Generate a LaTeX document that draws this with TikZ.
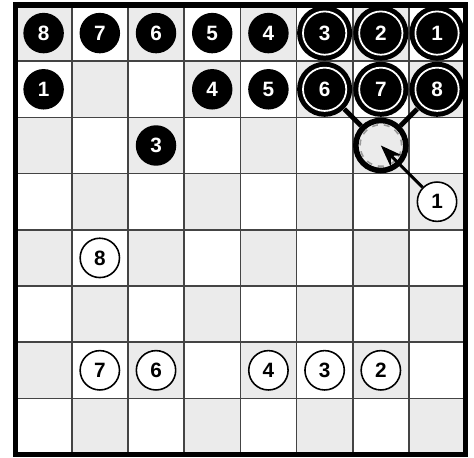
\documentclass[tikz,border=0pt]{standalone}
\usepackage{fontspec}
\setmainfont{Liberation Sans}
\usetikzlibrary{arrows.meta}
\definecolor{boardgray}{HTML}{EBEBEB}
\definecolor{gridgray}{HTML}{444444}

\begin{document}
\begin{tikzpicture}[
		blk/.style={circle, fill=black, text=white, minimum size=0.72cm, inner sep=0pt, font=\fontsize{10.5}{12}\selectfont\bfseries},
		wht/.style={circle, draw, fill=white, line width=0.8pt, minimum size=0.7cm, inner sep=0pt, font=\fontsize{10.5}{12}\selectfont\bfseries},
		ring/.style={blk, minimum size=0.98cm, path picture={\draw[white, line width=0.9pt] (path picture bounding box.center) circle (0.385);}},
		target/.style={circle, draw, line width=2.8pt, fill=boardgray, minimum size=0.89cm, inner sep=0pt,
				path picture={\draw[gray!80, dashed, line width=0.8pt] (path picture bounding box.center) circle (0.37);}}
	]
	\useasboundingbox (-0.276, -0.043) rectangle (8.158, 8.089);

	% board
	\foreach \c in {1, ..., 8} {
			\foreach \r in {1, ..., 8} {
					\pgfmathtruncatemacro{\odd}{mod(\c + \r, 2)}
					\ifnum\odd=0 \fill[boardgray] (\c - 1, 8 - \r) rectangle ++ (1, 1); \fi
				}
		}
	\draw[gridgray, line width=0.8pt] (0, 0) grid (8, 8);
	\draw[line width=2.6pt] (0, 0) rectangle (8, 8);

	% black pieces
	\foreach \c/\r/\n in {1/1/8, 2/1/7, 3/1/6, 4/1/5, 5/1/4, 1/2/1, 4/2/4, 5/2/5, 3/3/3} {
			\node[blk] (p-\c-\r) at (\c - 0.5, 8.5 - \r) {\n};
		}
	\foreach \c/\r/\n in {6/1/3, 7/1/2, 8/1/1, 6/2/6, 7/2/7, 8/2/8} {
			\node[ring] (p-\c-\r) at (\c - 0.5, 8.5 - \r) {\n};
		}

	% white pieces
	\foreach \c/\r/\n in {8/4/1, 2/5/8, 2/7/7, 3/7/6, 5/7/4, 6/7/3, 7/7/2} {
			\node[wht] (w-\c-\r) at (\c - 0.5, 8.5 - \r) {\n};
		}

	\node[target] (t) at (6.5, 5.5) {};
	\draw[line width=2.4pt] (p-6-2) -- (t);
	\draw[line width=2.4pt] (p-8-2) -- (t);
	\draw[line width=1.5pt, -{Stealth[length=11pt, width=8pt]}] (w-8-4) -- (t.center);
\end{tikzpicture}
\end{document}
